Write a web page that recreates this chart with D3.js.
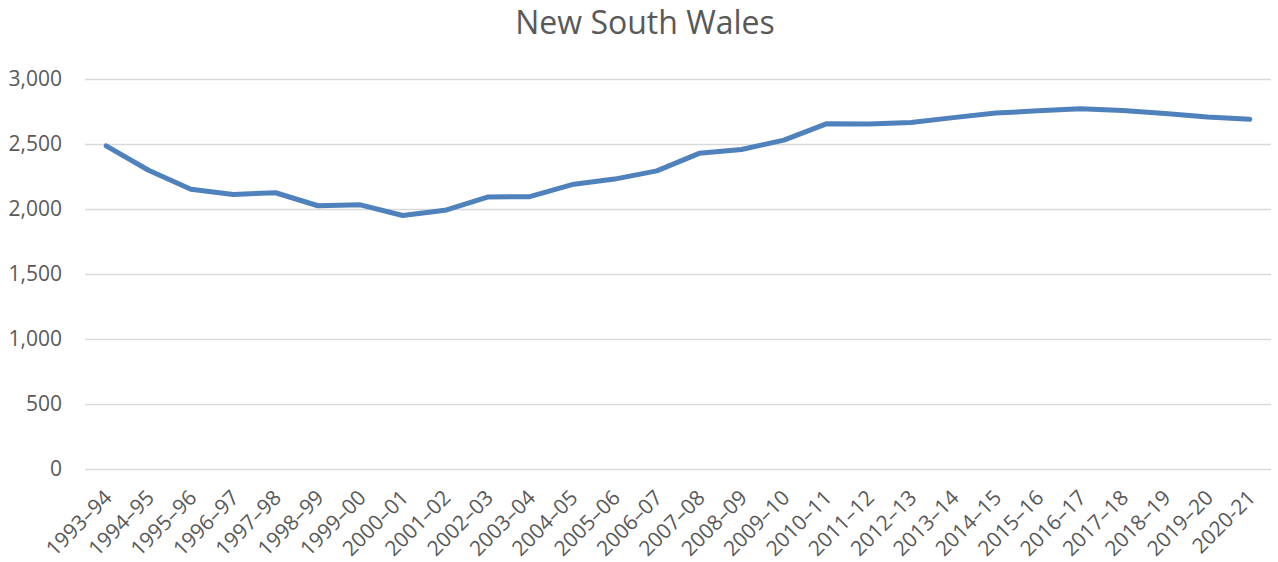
<!DOCTYPE html>
<html>
<head>
<meta charset="utf-8">
<script src="https://cdn.jsdelivr.net/npm/d3@7"></script>
<style>
  body { margin: 0; background: #fff; }
  svg text { font-family: "Open Sans", "Liberation Sans", sans-serif; fill: #595959; }
</style>
</head>
<body>
<div id="chart"></div>
<script>
// NSW series, financial years 1993–94 to 2020–21
const years = ['1993–94', '1994–95', '1995–96', '1996–97', '1997–98', '1998–99', '1999–00',
  '2000–01', '2001–02', '2002–03', '2003–04', '2004–05', '2005–06', '2006–07', '2007–08',
  '2008–09', '2009–10', '2010–11', '2011–12', '2012–13', '2013–14', '2014–15', '2015–16',
  '2016–17', '2017–18', '2018–19', '2019–20', '2020-21'];

const values = [2485, 2298, 2152, 2112, 2125, 2025, 2032, 1950, 1990, 2092, 2095, 2188, 2230,
  2293, 2428, 2458, 2530, 2655, 2653, 2665, 2703, 2738, 2755, 2772, 2757, 2735, 2708, 2690];

const yTicks = [0, 500, 1000, 1500, 2000, 2500, 3000];

const width = 1278, height = 562;
const margin = { top: 79, right: 7, bottom: 93, left: 85 };

const svg = d3.select('#chart').append('svg')
  .attr('width', width).attr('height', height);

const x = d3.scaleBand()
  .domain(years)
  .range([margin.left, width - margin.right]);

const y = d3.scaleLinear()
  .domain([0, 3000])
  .range([height - margin.bottom, margin.top]);

// title
svg.append('text')
  .attr('x', 645).attr('y', 34)
  .attr('text-anchor', 'middle')
  .style('font-size', '32px')
  .text('New South Wales');

// gridlines + y labels
const yAxis = svg.append('g')
  .attr('transform', `translate(${margin.left},0)`)
  .call(d3.axisLeft(y).tickValues(yTicks).tickSize(-(width - margin.left - margin.right))
    .tickFormat(d3.format(',')));
yAxis.select('.domain').remove();
yAxis.selectAll('line').attr('stroke', '#d9d9d9').attr('stroke-width', 1.3);
yAxis.selectAll('text')
  .attr('x', -23)
  .style('font-size', '21px')
  .style('fill', '#595959');

// x labels, rotated
const xAxis = svg.append('g')
  .attr('transform', `translate(0,${height - margin.bottom})`)
  .call(d3.axisBottom(x).tickSize(0));
xAxis.select('.domain').remove();
xAxis.selectAll('text')
  .style('font-size', '21px')
  .style('fill', '#595959')
  .attr('text-anchor', 'end')
  .attr('y', 0)
  .attr('dy', 0)
  .attr('transform', 'translate(7,30) rotate(-45)');

// line
const line = d3.line()
  .x((d, i) => x(years[i]) + x.bandwidth() / 2)
  .y(d => y(d));

svg.append('path')
  .datum(values)
  .attr('fill', 'none')
  .attr('stroke', '#4f81bd')
  .attr('stroke-width', 5)
  .attr('stroke-linejoin', 'round')
  .attr('stroke-linecap', 'round')
  .attr('d', line);
</script>
</body>
</html>
